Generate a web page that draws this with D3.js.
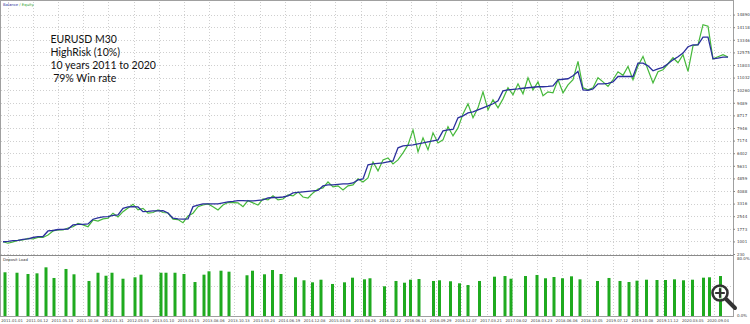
<!DOCTYPE html>
<html><head><meta charset="utf-8">
<script src="https://cdn.jsdelivr.net/npm/d3@7"></script>
<style>
body{margin:0;background:#fff}
svg{display:block;font-family:"DejaVu Sans",sans-serif}
</style></head>
<body><svg id="c"></svg>
<script>
// balance / equity sampled along the trade axis
const balance = [980,1000,1050,1060,1120,1150,1240,1290,1300,1640,
  1670,1730,1740,1760,2010,2040,2050,2070,2360,2440,
  2500,2520,2590,2620,3030,3110,3130,3110,2820,2840,
  2870,2870,2880,2740,2420,2380,2360,2380,3130,3230,
  3300,3300,3300,3300,3360,3420,3450,3500,3500,3480,
  3480,3510,3540,3660,3690,3690,3720,3790,3970,4000,
  4030,4060,4090,4120,4400,4460,4460,4490,4520,4520,
  4580,4770,4830,5690,5750,5780,5810,5870,5930,6730,
  6850,6880,6910,6970,7030,7100,7160,7220,7770,7830,
  7860,8570,8690,8870,8930,9060,9180,9300,9430,9610,
  10220,10280,10310,10340,10380,10410,10440,10470,10470,10490,
  10530,10900,10930,10960,11140,11410,10280,10250,10340,10650,
  10650,10680,10770,11100,11100,11100,11100,11920,11920,11750,
  11450,11570,11660,11880,12120,12310,12530,12920,13040,13040,
  13510,13510,12180,12230,12290,12290];
const equity = [980,890,970,1060,1090,1190,1150,1250,1240,1390,
  1640,1700,1700,1820,1900,2100,2010,1900,2310,2250,
  2380,2420,2730,2500,2820,3050,3280,2930,3020,2730,
  2770,2930,2770,2740,2360,2340,2150,2560,2730,3130,
  3230,3300,3130,2930,3230,3380,3380,3360,3130,3500,
  3360,3230,3600,3540,3790,3540,3600,3850,3790,4030,
  3720,3660,3970,4210,4280,4640,4340,4400,4150,4400,
  4460,4830,4640,4890,5870,5320,5990,6110,5750,5990,
  6420,6910,7830,6480,7340,6610,7650,7030,7220,8020,
  7460,7950,8810,9430,8570,9180,10160,9060,9670,9180,
  9730,10410,9980,10650,10040,11020,10280,10770,9920,10160,
  10100,10900,10100,10590,10900,12020,10410,10280,10410,11020,
  10770,10490,10900,11390,11170,11710,10900,11750,12330,11510,
  10710,11390,11510,11880,12250,11940,12430,11410,12980,13040,
  14270,14180,12180,12310,12430,12290];

// deposit load bars: position on the trade axis and load %
const loadTrade = [0.4,2.8,5.0,6.8,8.6,10.2,12.6,14.2,17.2,19.0,20.6,21.8,24.0,26.4,27.6,31.6,32.6,34.4,36.2,38.4,40.2,41.2,43.6,45.2,48.8,
  49.9,52.3,53.9,55.6,58.5,60.2,61.9,63.6,65.9,68.3,69.9,72.3,73.4,76.3,78.6,80.3,81.5,83.2,86.1,87.3,89.5,91.3,93.0,95.3,98.3,
  100.4,101.6,104.5,106.8,108.5,110.2,111.9,113.7,115.4,118.9,121.2,123.4,125.2,126.8,128.7,130.8,132.5,134.3,136.1,137.9,140.1,141.3,143.5];
const loadPct = [58.3,57.7,56,56.9,64.9,50.7,62.7,55.6,46.7,57.7,53.7,57.7,49.7,51.6,55.1,57.7,57.7,57.7,56,45.3,55.1,59.6,60.4,59.1,54.3,
  60.4,55.6,61.3,56,51.6,47.6,44.9,48.4,42.7,44.9,51.1,48.9,50.3,39.6,46.7,44.4,48.4,49.3,46.7,47.6,46.3,43.6,41.3,46.7,52.4,
  53.3,49.7,53.3,54.7,50.3,52,50.3,52.9,48.9,46.7,50.7,46.7,45.3,47.1,48.4,48,48,48.9,47.6,48.4,51.1,51.6,53.3];

const dates = ["2011.01.01","2011.04.12","2011.05.13","2011.10.18","2012.01.31","2012.05.03","2013.01.10","2013.04.15",
  "2013.08.06","2013.10.13","2014.03.24","2014.06.19","2014.12.08","2015.04.08","2015.08.26","2016.02.22","2016.06.14",
  "2016.09.29","2016.12.07","2017.03.21","2017.08.02","2018.03.23","2018.06.06","2018.10.05","2019.07.12","2019.10.08",
  "2019.11.12","2020.03.05","2020.09.04"];
const yTicks = [230,1001,1773,2544,3316,4088,4859,5631,6402,7174,7946,8717,9489,10260,11032,11803,12575,13346,14118,14890];
const loadTicks = [80, 0];
const notes = ["EURUSD M30", "HighRisk (10%)", "10 years 2011 to 2020", " 79% Win rate"];

const W = 750, H = 324;
const svg = d3.select("#c").attr("width", W).attr("height", H);

const x = d3.scaleLinear().domain([0, balance.length - 1]).range([3, 728]);
const y = d3.scaleLinear().domain([230, 15661]).range([254, 2]);
const yl = d3.scaleLinear().domain([0, 80]).range([316, 256]);
const xd = d3.scalePoint().domain(dates).range([12, 718]);

const gridCol = "#cfcfcf";

// horizontal grid
svg.append("g").selectAll("line").data(yTicks).join("line")
  .attr("x1", 1).attr("x2", 733)
  .attr("y1", d => Math.round(y(d)) + 0.5).attr("y2", d => Math.round(y(d)) + 0.5)
  .attr("stroke", gridCol).attr("stroke-dasharray", "1,2");
svg.append("line").attr("x1", 1).attr("x2", 733).attr("y1", 286.5).attr("y2", 286.5)
  .attr("stroke", gridCol).attr("stroke-dasharray", "1,2");

// vertical grid (both panels)
svg.append("g").selectAll("line").data(dates).join("line")
  .attr("x1", d => Math.round(xd(d) - 4.5) + 0.5).attr("x2", d => Math.round(xd(d) - 4.5) + 0.5)
  .attr("y1", 2).attr("y2", 316)
  .attr("stroke", gridCol).attr("stroke-dasharray", "1,2");

// frame
svg.append("rect").attr("x", 0.5).attr("y", 0.5).attr("width", 733).attr("height", 316)
  .attr("fill", "none").attr("stroke", "#a0a0a0");
svg.append("line").attr("x1", 0).attr("x2", 733).attr("y1", 255.5).attr("y2", 255.5).attr("stroke", "#8a8a8a");

// deposit load bars
svg.append("g").selectAll("rect").data(loadPct).join("rect")
  .attr("x", (d, i) => x(loadTrade[i]) - 1.5)
  .attr("y", d => yl(d))
  .attr("width", 3)
  .attr("height", d => yl(0) - yl(d))
  .attr("fill", "#1faa1f");

// equity & balance lines
const line = d3.line().x((d, i) => x(i)).y(d => y(d));
svg.append("path").datum(equity).attr("d", line)
  .attr("fill", "none").attr("stroke", "#45b83a").attr("stroke-width", 1.2);
svg.append("path").datum(balance).attr("d", line)
  .attr("fill", "none").attr("stroke", "#2a2f9c").attr("stroke-width", 1.3);

// right axis
const ax = svg.append("g").attr("transform", "translate(733,0)")
  .call(d3.axisRight(y).tickValues(yTicks).tickSize(2).tickFormat(d => d));
ax.select(".domain").remove();
ax.selectAll("line").attr("stroke", "#888");
ax.selectAll("text").attr("x", 4).attr("font-size", 4).attr("fill", "#444").attr("font-family", "DejaVu Sans");

svg.append("g").selectAll("text").data(loadTicks).join("text")
  .attr("x", 737).attr("y", d => d === 80 ? 260 : 317)
  .attr("font-size", 4).attr("fill", "#444").text(d => d.toFixed(1) + "%");

// date labels
svg.append("g").selectAll("text").data(dates).join("text")
  .attr("x", d => xd(d)).attr("y", 321.5)
  .attr("text-anchor", "middle").attr("font-size", 3.8).attr("fill", "#444")
  .text(d => d);

// panel titles
const t = svg.append("text").attr("x", 3).attr("y", 5.5).attr("font-size", 3.8);
t.append("tspan").attr("fill", "#2a2f9c").text("Balance");
t.append("tspan").attr("fill", "#2f9f2f").text(" / Equity");
svg.append("text").attr("x", 3).attr("y", 261).attr("font-size", 3.8).attr("fill", "#333").text("Deposit Load");

// notes
svg.append("g").selectAll("text").data(notes).join("text")
  .attr("x", 50.5).attr("y", (d, i) => 42.7 + i * 13)
  .attr("font-family", "Lato").attr("font-size", 10.5).attr("fill", "#111")
  .attr("xml:space", "preserve").style("white-space", "pre")
  .text(d => d);

// magnifier overlay
const mg = svg.append("g").attr("stroke", "#333").attr("fill", "none").attr("stroke-linecap", "round");
mg.append("line").attr("x1", 726).attr("y1", 299).attr("x2", 735).attr("y2", 308).attr("stroke-width", 4);
mg.append("circle").attr("cx", 720).attr("cy", 293).attr("r", 7.5).attr("stroke-width", 2.6).attr("fill", "rgba(255,255,255,0.6)");
mg.append("path").attr("d", "M716,293H724M720,289V297").attr("stroke-width", 2.2);
</script>
</body></html>
